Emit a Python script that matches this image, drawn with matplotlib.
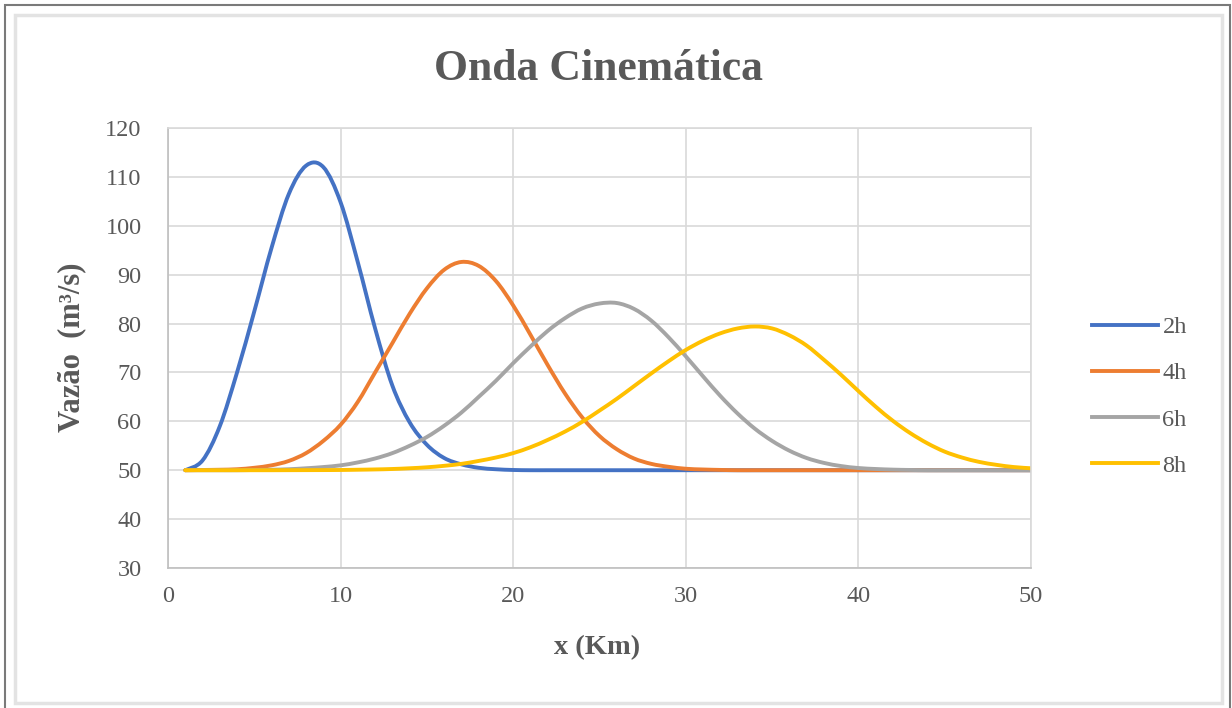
import numpy as np
import matplotlib.pyplot as plt
from matplotlib.path import Path
from matplotlib.patches import PathPatch, Rectangle
from matplotlib.lines import Line2D

# distance along the channel (km)
x_km = list(range(1, 51))

# discharge (m3/s) at each time
q_2h = [50.0, 52.0, 59.0, 70.0, 82.5, 95.5, 106.5, 112.3, 112.0, 104.8,
        92.5, 79.0, 67.3, 59.8, 55.2, 52.5, 51.2, 50.5, 50.2, 50.05,
        50.0, 50.0, 50.0, 50.0, 50.0, 50.0, 50.0, 50.0, 50.0, 50.0,
        50.0, 50.0, 50.0, 50.0, 50.0, 50.0, 50.0, 50.0, 50.0, 50.0,
        50.0, 50.0, 50.0, 50.0, 50.0, 50.0, 50.0, 50.0, 50.0, 50.0]
q_4h = [50.0, 50.05, 50.1, 50.2, 50.5, 51.0, 51.9, 53.5, 56.0, 59.3,
        64.0, 70.0, 76.0, 82.0, 87.2, 91.0, 92.6, 91.8, 88.7, 83.7,
        77.7, 71.5, 65.7, 60.8, 57.0, 54.3, 52.4, 51.3, 50.7, 50.3,
        50.15, 50.06, 50.0, 50.0, 50.0, 50.0, 50.0, 50.0, 50.0, 50.0,
        50.0, 50.0, 50.0, 50.0, 50.0, 50.0, 50.0, 50.0, 50.0, 50.0]
q_6h = [50.0, 50.0, 50.0, 50.0, 50.05, 50.1, 50.2, 50.4, 50.65, 51.0,
        51.6, 52.4, 53.5, 55.0, 56.8, 59.1, 61.8, 65.0, 68.3, 71.9,
        75.3, 78.5, 81.1, 83.1, 84.1, 84.2, 83.0, 80.6, 77.2, 73.3,
        69.2, 65.2, 61.6, 58.5, 56.0, 54.0, 52.5, 51.5, 50.85, 50.45,
        50.25, 50.12, 50.05, 50.0, 50.0, 50.0, 50.0, 50.0, 50.0, 50.0]
q_8h = [50.0, 50.0, 50.0, 50.0, 50.0, 50.0, 50.01, 50.02, 50.03, 50.05,
        50.1, 50.16, 50.25, 50.4, 50.6, 50.9, 51.3, 51.9, 52.6, 53.5,
        54.7, 56.2, 57.9, 59.9, 62.2, 64.6, 67.2, 69.8, 72.3, 74.6,
        76.5, 78.0, 79.0, 79.4, 79.0, 77.6, 75.5, 72.6, 69.5, 66.2,
        63.0, 60.1, 57.6, 55.5, 53.8, 52.6, 51.7, 51.1, 50.65, 50.4]

labels = ['2h', '4h', '6h', '8h']
series = [q_2h, q_4h, q_6h, q_8h]
colors = ['#4472C4', '#ED7D31', '#A5A5A5', '#FFC000']

x_ticks = [0, 10, 20, 30, 40, 50]
y_ticks = [30, 40, 50, 60, 70, 80, 90, 100, 110, 120]

text_gray = '#595959'
plt.rcParams['font.family'] = ['Liberation Serif', 'DejaVu Serif']


def smooth_path(x, y):
    # Catmull-Rom spline through the points, written as cubic Bezier segments
    pts = np.column_stack([x, y]).astype(float)
    ext = np.vstack([pts[0], pts, pts[-1]])
    verts = [pts[0]]
    codes = [Path.MOVETO]
    for i in range(1, len(ext) - 2):
        p0, p1, p2, p3 = ext[i - 1], ext[i], ext[i + 1], ext[i + 2]
        verts += [p1 + (p2 - p0) / 6, p2 - (p3 - p1) / 6, p2]
        codes += [Path.CURVE4] * 3
    return Path(verts, codes)


fig = plt.figure(figsize=(12.32, 7.08), dpi=100)
ax = fig.add_axes([168 / 1232, 1 - 568 / 708, 863 / 1232, 440 / 708])

for q, c in zip(series, colors):
    ax.add_patch(PathPatch(smooth_path(x_km, q), fill=False, edgecolor=c,
                           lw=2.8, capstyle='round', joinstyle='round'))

ax.set_xlim(0, 50)
ax.set_ylim(30, 120)
ax.set_xticks(x_ticks)
ax.set_yticks(y_ticks)
ax.grid(True, color='#d9d9d9', lw=1.2)
ax.set_axisbelow(True)
for s in ax.spines.values():
    s.set_color('#d9d9d9')
    s.set_linewidth(1.2)
ax.spines['left'].set_color('#bfbfbf')
ax.spines['bottom'].set_color('#bfbfbf')
ax.tick_params(axis='both', length=0, labelsize=17.5, colors=text_gray)
ax.tick_params(axis='y', pad=19)
ax.tick_params(axis='x', pad=13)

fig.text(0.486, 0.902, 'Onda Cinemática', ha='center', va='center',
         fontsize=31.5, fontweight='bold', color=text_gray)
fig.text(0.485, 0.086, 'x (Km)', ha='center', va='center',
         fontsize=20.5, fontweight='bold', color=text_gray)
fig.text(0.058, 0.51, 'Vazão  (m³/s)', ha='center', va='center', rotation=90,
         fontsize=22, fontweight='bold', color=text_gray)

handles = [Line2D([], [], color=c, lw=2.8) for c in colors]
fig.legend(handles, labels, loc='center left',
           bbox_to_anchor=(1092 / 1232, 1 - 396.5 / 708),
           bbox_transform=fig.transFigure, frameon=False, fontsize=17.5,
           labelcolor=text_gray, handlelength=2.7, handletextpad=0.2,
           labelspacing=1.0, borderpad=0, borderaxespad=0)

# chart area frame and the outer picture border
fig.patches.append(Rectangle((15 / 1232, 5 / 708), 1207 / 1232, 688 / 708,
                             transform=fig.transFigure, fill=False,
                             edgecolor='#e3e3e3', lw=2.5))
fig.patches.append(Rectangle((5 / 1232, -2 / 708), 1225 / 1232, 705 / 708,
                             transform=fig.transFigure, fill=False,
                             edgecolor='#7a7a7a', lw=1.5))

fig.savefig('out.png', dpi=100)
